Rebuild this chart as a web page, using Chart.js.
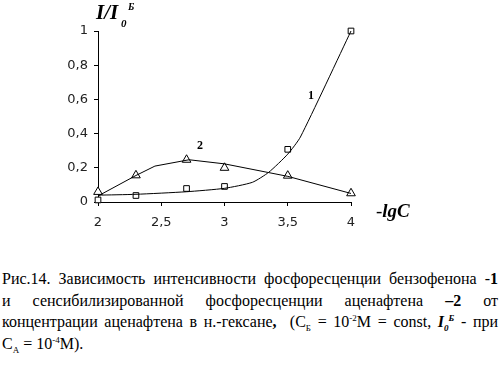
<!DOCTYPE html>
<html>
<head>
<meta charset="utf-8">
<script src="https://cdn.jsdelivr.net/npm/chart.js@4.4.1/dist/chart.umd.min.js"></script>
<style>
  body { margin: 0; background: #fff; width: 500px; height: 367px; overflow: hidden; position: relative; }
  #wrap { position: absolute; left: 0; top: 0; width: 500px; height: 240px; }
  .lbl { position: absolute; font-family: "Liberation Serif", serif; font-weight: bold; color: #000; }
  #caption { position: absolute; left: 2px; top: 268px; width: 496px; font-family: "Liberation Serif", serif; font-size: 16px; line-height: 21.5px; color: #000; }
  #caption div { text-align: justify; text-align-last: justify; white-space: nowrap; }
  #caption div.last { text-align: left; text-align-last: left; }
  sup, sub { font-size: 9px; line-height: 0; }
</style>
</head>
<body>
<div id="wrap"><canvas id="chart" width="500" height="240"></canvas></div>

<div class="lbl" style="left:96px; top:0px; font-size:21px; font-style:italic;">I/I</div>
<div class="lbl" style="left:121px; top:17px; font-size:11px; font-style:italic;">0</div>
<div class="lbl" style="left:128px; top:1px; font-size:10px; font-style:italic;">Б</div>
<div class="lbl" style="left:376px; top:200px; font-size:19px; font-style:italic;"><span style="font-weight:normal;font-style:normal;">-</span>lgC</div>
<div class="lbl" style="left:308px; top:88px; font-size:12px;">1</div>
<div class="lbl" style="left:197px; top:138px; font-size:12px;">2</div>

<div id="caption">
  <div>Рис.14. Зависимость интенсивности фосфоресценции бензофенона -<b>1</b></div>
  <div>и сенсибилизированной фосфоресценции аценафтена <b>–2</b> от</div>
  <div>концентрации аценафтена в н.-гексане<b>,</b> &nbsp;(С<sub>Б</sub> = 10<sup>-2</sup>М = const, <b><i>I<sub>0</sub><sup>Б</sup></i></b> - при</div>
  <div class="last">С<sub>А</sub> = 10<sup>-4</sup>М).</div>
</div>

<script>
// measured points (markers)
var lgC = [2, 2.3, 2.7, 3, 3.5, 4];
var benzophenone = [0.012, 0.038, 0.079, 0.091, 0.308, 1.0];   // 1, squares
var acenaphthene = [0.059, 0.156, 0.247, 0.2, 0.154, 0.051];   // 2, triangles

// drawn curves
var curve1X = [2, 2.3, 2.7, 3, 3.22, 3.35, 3.5, 3.6, 4];
var curve1Y = [0.04, 0.045, 0.06, 0.08, 0.115, 0.174, 0.28, 0.38, 1.0];
var curve2X = [2, 2.3, 2.45, 2.72, 3, 3.5, 4];
var curve2Y = [0.035, 0.155, 0.21, 0.247, 0.223, 0.15, 0.05];

var yTicks = [0, 0.2, 0.4, 0.6, 0.8, 1];
var xTicks = [2, 2.5, 3, 3.5, 4];

function pts(xs, ys) {
  var out = [];
  for (var i = 0; i < xs.length; i++) out.push({x: xs[i], y: ys[i]});
  return out;
}
function comma(v) { return String(v).replace('.', ','); }

var ctx = document.getElementById('chart');
new Chart(ctx, {
  type: 'scatter',
  data: {
    datasets: [
      { data: pts(curve1X, curve1Y), showLine: true, borderColor: '#000', borderWidth: 1,
        pointRadius: 0, tension: 0.2, clip: false },
      { data: pts(curve2X, curve2Y), showLine: true, borderColor: '#000', borderWidth: 1,
        pointRadius: 0, tension: 0, clip: false },
      { data: pts(lgC, benzophenone), pointStyle: 'rect', pointRadius: 4,
        borderColor: '#000', borderWidth: 1, backgroundColor: '#fff', clip: false },
      { data: pts(lgC, acenaphthene), pointStyle: 'triangle', pointRadius: 5,
        borderColor: '#000', borderWidth: 1, backgroundColor: '#fff', clip: false }
    ]
  },
  options: {
    responsive: false,
    animation: false,
    events: [],
    layout: { padding: { left: 0, top: 31, right: 149, bottom: 0 } },
    plugins: { legend: { display: false }, tooltip: { enabled: false } },
    scales: {
      x: {
        type: 'linear', min: 2, max: 4,
        afterBuildTicks: function(s) { s.ticks = xTicks.map(function(v) { return {value: v}; }); },
        afterFit: function(s) { s.height = 38; },
        grid: { drawOnChartArea: false, drawTicks: true, tickLength: 4, color: '#000' },
        border: { color: '#000', width: 1 },
        ticks: { color: '#222', padding: 9, font: { family: 'DejaVu Sans', size: 13 },
                 callback: function(v) { return comma(v); } }
      },
      y: {
        type: 'linear', min: 0, max: 1,
        afterBuildTicks: function(s) { s.ticks = yTicks.map(function(v) { return {value: v}; }); },
        afterFit: function(s) { s.width = 98; },
        grid: { drawOnChartArea: false, drawTicks: true, tickLength: 4, color: '#000' },
        border: { color: '#000', width: 1 },
        ticks: { color: '#222', padding: 6, font: { family: 'DejaVu Sans', size: 13 },
                 callback: function(v) { return comma(v); } }
      }
    }
  }
});
</script>
</body>
</html>
